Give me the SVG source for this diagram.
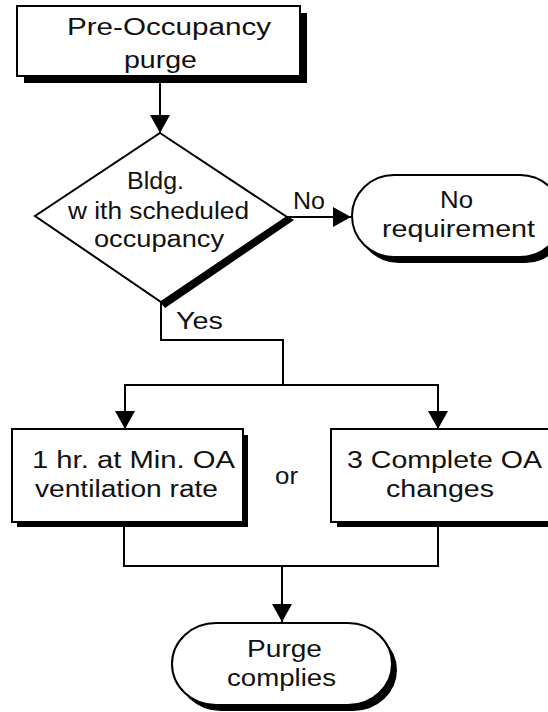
<svg xmlns="http://www.w3.org/2000/svg" width="548" height="712" viewBox="0 0 548 712">
<style>
.box{fill:#fff;stroke:#000;stroke-width:2}
.sh{fill:#000;stroke:none}
.ln{fill:none;stroke:#000;stroke-width:2}
text{font-family:"Liberation Sans",Arial,sans-serif;font-size:23px;fill:#111}
</style>
<defs>
<marker id="ah" markerUnits="userSpaceOnUse" markerWidth="18" markerHeight="20" viewBox="0 0 18 20" refX="18" refY="10" orient="auto">
<path d="M0,0 L18,10 L0,20 z" fill="#000"/>
</marker>
</defs>
<rect width="548" height="712" fill="#fff"/>
<g id="connectors">
<path class="ln" d="M160,76 V133" marker-end="url(#ah)"/>
<path class="ln" d="M287,217 H351" marker-end="url(#ah)"/>
<path class="ln" d="M161,302 V340 H283 V385"/>
<path class="ln" d="M283,385 H125 V429" marker-end="url(#ah)"/>
<path class="ln" d="M283,385 H438 V429" marker-end="url(#ah)"/>
<path class="ln" d="M124,522 V566 H438 V522"/>
<path class="ln" d="M282,566 V622" marker-end="url(#ah)"/>
<text x="293" y="209" textLength="32" lengthAdjust="spacingAndGlyphs">No</text>
<text x="176" y="329" textLength="47" lengthAdjust="spacingAndGlyphs">Yes</text>
<text x="275" y="484" textLength="23" lengthAdjust="spacingAndGlyphs">or</text>
</g>
<g id="start">
<rect class="sh" x="24" y="13" width="283" height="70"/>
<rect class="box" x="17" y="6" width="283" height="70"/>
<text x="67" y="35" textLength="204" lengthAdjust="spacingAndGlyphs">Pre-Occupancy</text>
<text x="124" y="68" textLength="73" lengthAdjust="spacingAndGlyphs">purge</text>
</g>
<g id="decision">
<polygon class="sh" points="287,216 294,220 165,308 160,302"/>
<polygon class="box" points="160,133 287,217 161,302 35,216"/>
<text x="127" y="189" textLength="57" lengthAdjust="spacingAndGlyphs">Bldg.</text>
<text x="68" y="219" textLength="181" lengthAdjust="spacingAndGlyphs">w ith scheduled</text>
<text x="94" y="247" textLength="130" lengthAdjust="spacingAndGlyphs">occupancy</text>
</g>
<g id="no-req">
<rect class="sh" x="357" y="181" width="210" height="82" rx="42" ry="41"/>
<rect class="box" x="352" y="175" width="210" height="82" rx="42" ry="41"/>
<text x="440" y="208" textLength="33" lengthAdjust="spacingAndGlyphs">No</text>
<text x="382" y="237" textLength="153" lengthAdjust="spacingAndGlyphs">requirement</text>
</g>
<g id="one-hour">
<rect class="sh" x="17" y="435" width="231" height="92"/>
<rect class="box" x="12" y="429" width="231" height="93"/>
<text x="32" y="468" textLength="203" lengthAdjust="spacingAndGlyphs">1 hr. at Min. OA</text>
<text x="35" y="497" textLength="183" lengthAdjust="spacingAndGlyphs">ventilation rate</text>
</g>
<g id="three-changes">
<rect class="sh" x="337" y="435" width="240" height="92"/>
<rect class="box" x="331" y="429" width="240" height="93"/>
<text x="347" y="468" textLength="195" lengthAdjust="spacingAndGlyphs">3 Complete OA</text>
<text x="386" y="497" textLength="108" lengthAdjust="spacingAndGlyphs">changes</text>
</g>
<g id="complies">
<rect class="sh" x="177" y="629" width="220" height="82" rx="44" ry="41"/>
<rect class="box" x="172" y="623" width="220" height="82" rx="44" ry="41"/>
<text x="247" y="657" textLength="75" lengthAdjust="spacingAndGlyphs">Purge</text>
<text x="227" y="686" textLength="109" lengthAdjust="spacingAndGlyphs">complies</text>
</g>
</svg>
